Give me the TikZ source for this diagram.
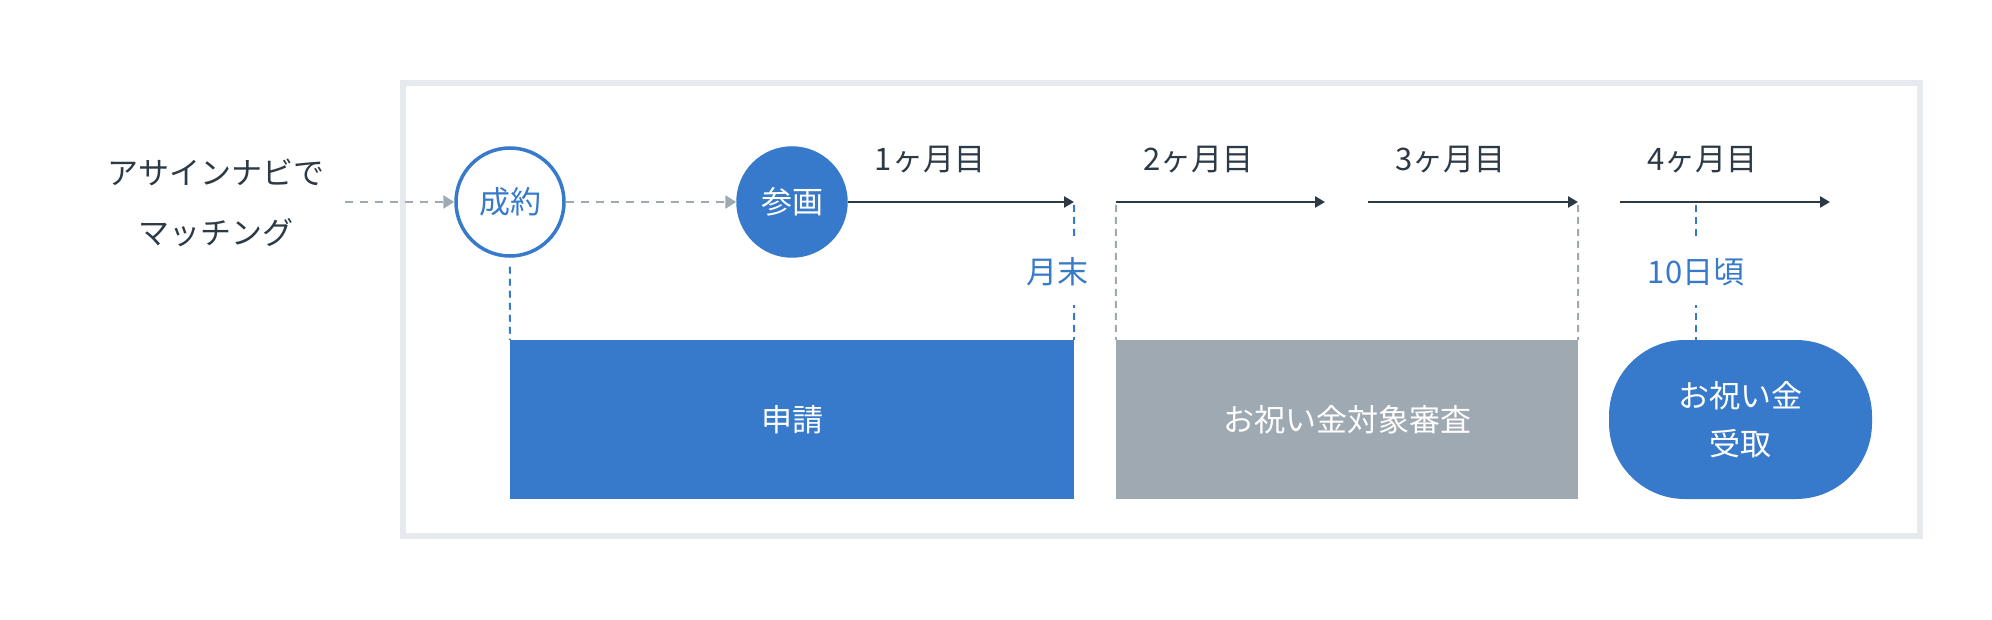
\documentclass[tikz,border=0pt]{standalone}
\usepackage{fontspec}
\setmainfont{Noto Sans CJK JP}
\usetikzlibrary{positioning,arrows.meta}
\definecolor{navblue}{HTML}{377ACB}
\definecolor{slate}{HTML}{2C3A46}
\definecolor{steel}{HTML}{9EA9B2}
\definecolor{framegray}{HTML}{E6E9ED}
\begin{document}
\begin{tikzpicture}[x=1pt, y=-1pt,
        txt/.style={font=\fontsize{31pt}{60pt}\selectfont, text=slate, inner sep=0pt},
        stage/.style={circle, minimum size=108pt, line width=3.5pt, draw=navblue, font=\fontsize{31pt}{37pt}\selectfont},
        block/.style={minimum height=159pt, text=white, align=center, font=\fontsize{31pt}{48pt}\selectfont},
        tag/.style={fill=white, text=navblue, inner xsep=3pt, inner ysep=19pt, font=\fontsize{31pt}{37pt}\selectfont},
        dasharrow/.style={draw=steel, line width=2.5pt, dash pattern=on 8pt off 7pt, -{Triangle[length=11pt,width=13pt]}},
        montharrow/.style={draw=slate, line width=2.5pt, -{Triangle[length=10pt,width=11pt]}},
        bluemark/.style={draw=navblue, line width=2pt, dash pattern=on 7pt off 5pt},
        graymark/.style={draw=steel, line width=2pt, dash pattern=on 7pt off 5pt}]
                \useasboundingbox (0,0) rectangle (1992,620);
                \draw[framegray, line width=5.5pt] (403,83) rectangle (1920,536);

                \node[txt, align=center] (match) at (216,203) {アサインナビで\\マッチング};
                \node[stage, text=navblue] (seiyaku) at (510,202) {成約};
                \node[stage, fill=navblue, text=white, right of=seiyaku, node distance=282pt] (sankaku) {参画};

                \node[block, fill=navblue, minimum width=564pt, below of=sankaku, node distance=217.5pt] (shinsei) {申請};
                \node[block, fill=steel, minimum width=462pt, right of=shinsei, node distance=555pt] (shinsa) {お祝い金対象審査};
                \node[block, fill=navblue, minimum width=263pt, rounded corners=76pt, right of=shinsa, node distance=393.5pt] (uketori) {お祝い金\\受取};

                \coordinate (start) at (345,202);
                \coordinate (m1e) at (1074,202);
                \coordinate (m2s) at (1116,202);
                \coordinate (m2e) at (1325,202);
                \coordinate (m3s) at (1368,202);
                \coordinate (m3e) at (1578,202);
                \coordinate (m4s) at (1620,202);
                \coordinate (m4e) at (1830,202);
                \coordinate (d10) at (1696,202);

                \draw[bluemark, shorten <=9pt] (seiyaku.south) -- (shinsei.north west);
                \draw[bluemark, shorten <=3pt] (m1e) -- (shinsei.north east);
                \draw[graymark, shorten <=3pt] (m2s) -- (shinsa.north west);
                \draw[graymark, shorten <=3pt] (m3e) -- (shinsa.north east);
                \draw[bluemark, shorten <=3pt] (d10) -- (d10 |- uketori.north);
                \node[tag] (getsumatsu) at (1057.5,272) {月末};
                \node[tag] (tooka) at (1696,272) {10日頃};

                \draw[dasharrow] (start) -- (seiyaku);
                \draw[dasharrow] (seiyaku) -- (sankaku);
                \draw[montharrow] (sankaku) -- (m1e);
                \draw[montharrow] (m2s) -- (m2e);
                \draw[montharrow] (m3s) -- (m3e);
                \draw[montharrow] (m4s) -- (m4e);

                \node[txt, anchor=west] (mon1) at ([xshift=27pt,yshift=42pt]sankaku.east) {1ヶ月目};
                \node[txt, anchor=west] (mon2) at ([xshift=27pt,yshift=42pt]m2s) {2ヶ月目};
                \node[txt, anchor=west] (mon3) at ([xshift=27pt,yshift=42pt]m3s) {3ヶ月目};
                \node[txt, anchor=west] (mon4) at ([xshift=27pt,yshift=42pt]m4s) {4ヶ月目};
\end{tikzpicture}
\end{document}
